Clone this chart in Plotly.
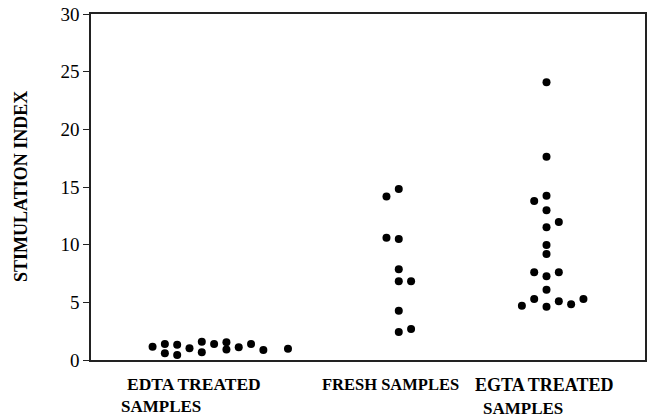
import plotly.graph_objects as go

# Data: stimulation index per sample, with horizontal column slot (dot-plot stacking)
edta_vals = [1.15, 1.39, 0.58, 1.33, 0.43, 1.01, 1.59, 0.67, 1.39, 1.53, 0.90, 1.10, 1.39, 0.87, 0.98]
edta_cols = [5, 6, 6, 7, 7, 8, 9, 9, 10, 11, 11, 12, 13, 14, 16]

fresh_vals = [14.83, 14.17, 10.60, 10.49, 7.86, 6.82, 6.82, 4.28, 2.43, 2.69]
fresh_cols = [25, 24, 24, 25, 25, 25, 26, 25, 25, 26]

egta_vals = [24.08, 17.63, 14.25, 13.79, 12.98, 11.97, 11.50, 9.97, 9.19,
             7.60, 7.26, 7.60, 6.10, 5.29, 4.71, 4.62, 5.09, 4.83, 5.29]
egta_cols = [37, 37, 37, 36, 37, 38, 37, 37, 37,
             36, 37, 38, 37, 36, 35, 37, 38, 39, 40]

y_ticks = [0, 5, 10, 15, 20, 25, 30]

FONT = "Liberation Serif, Times New Roman, serif"

fig = go.Figure()
for cols, vals in [(edta_cols, edta_vals), (fresh_cols, fresh_vals), (egta_cols, egta_vals)]:
    fig.add_trace(go.Scatter(
        x=cols, y=vals, mode="markers",
        marker=dict(color="black", size=8, line=dict(width=0)),
        showlegend=False, hoverinfo="y"))

labels = [
    ("EDTA TREATED", 2.8, -24, 17.5),
    ("SAMPLES", 2.3, -46, 17),
    ("FRESH SAMPLES", 18.6, -24, 16.5),
    ("EGTA TREATED", 31.0, -25, 18),
    ("SAMPLES", 31.7, -48, 17),
]
for text, xpos, ys, fs in labels:
    fig.add_annotation(
        x=xpos, xref="x", y=0, yref="paper", yanchor="middle", xanchor="left",
        yshift=ys, text="<b>%s</b>" % text, showarrow=False,
        font=dict(family=FONT, size=fs, color="black"))

fig.add_annotation(
    x=0, xref="paper", y=0.5, yref="paper", xanchor="center", yanchor="middle",
    xshift=-70, textangle=-90, text="<b>STIMULATION INDEX</b>", showarrow=False,
    font=dict(family=FONT, size=18, color="black"))

fig.update_layout(
    width=656, height=417,
    margin=dict(l=91, r=11, t=14, b=57, autoexpand=False),
    plot_bgcolor="white", paper_bgcolor="white",
    font=dict(family=FONT, color="black"),
    xaxis=dict(range=[0, 45], showgrid=False, zeroline=False, showticklabels=False,
               ticks="", showline=True, linecolor="#222", linewidth=1.5, mirror=True,
               automargin=False, fixedrange=True),
    yaxis=dict(range=[0, 30], tickvals=y_ticks, ticktext=[str(v) for v in y_ticks],
               showgrid=False, zeroline=False, ticks="outside", ticklen=6,
               tickwidth=1.2, tickcolor="#222",
               showline=True, linecolor="#222", linewidth=1.5, mirror=True,
               tickfont=dict(family=FONT, size=19, color="black"),
               ticklabeloverflow="allow", automargin=False,
               fixedrange=True),
)

fig.write_html("out.html", config={"displayModeBar": False},
               post_script="document.body.style.margin='0';document.body.style.overflow='hidden';")
